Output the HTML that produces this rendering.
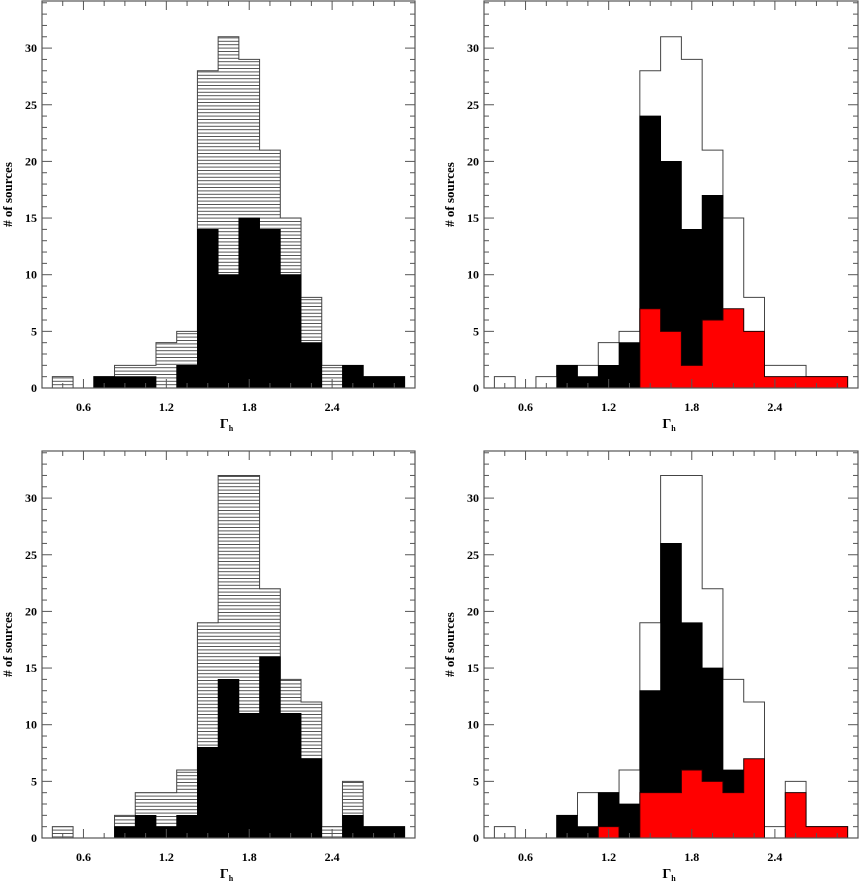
<!DOCTYPE html>
<html><head><meta charset="utf-8"><style>
html,body{margin:0;padding:0;background:#fff}
svg{display:block}
text{font-family:"Liberation Serif",serif;font-weight:bold;fill:#000}
</style></head><body>
<svg id="fig" width="859" height="882" viewBox="0 0 859 882" xmlns="http://www.w3.org/2000/svg">
<defs>
<pattern id="hatch" patternUnits="userSpaceOnUse" width="8" height="3.4">
<rect width="8" height="3.4" fill="#fff"/>
<line x1="0" y1="0.5" x2="8" y2="0.5" stroke="#444" stroke-width="0.9"/>
</pattern>
</defs>
</svg>
<script>
// bin left edges (Gamma_h), width 0.15
const binStarts = [0.375,0.525,0.675,0.825,0.975,1.125,1.275,1.425,1.575,1.725,1.875,2.025,2.175,2.325,2.475,2.625,2.775];
const xTicks = [0.6,1.2,1.8,2.4];
const yTicks = [0,5,10,15,20,25,30];
const topTotal   = [1,0,1,2,2,4,5,28,31,29,21,15,8,2,2,1,1];
const topBlackL  = [0,0,1,1,1,0,2,14,10,15,14,10,4,0,2,1,1];
const topBlackR  = [0,0,0,2,1,2,4,24,20,14,17,0,0,0,0,0,0];
const topRed     = [0,0,0,0,0,0,0,7,5,2,6,7,5,1,1,1,1];
const botTotal   = [1,0,0,2,4,4,6,19,32,32,22,14,12,1,5,1,1];
const botBlackL  = [0,0,0,1,2,1,2,8,14,11,16,11,7,0,2,1,1];
const botBlackR  = [0,0,0,2,1,4,3,13,26,19,15,6,0,0,0,0,0];
const botRed     = [0,0,0,0,0,1,0,4,4,6,5,4,7,0,4,1,1];

const NS="http://www.w3.org/2000/svg";
const svg=document.getElementById('fig');
function mk(tag,attrs,parent){const e=document.createElementNS(NS,tag);for(const k in attrs)e.setAttribute(k,attrs[k]);(parent||svg).appendChild(e);return e;}

function stepPath(vals,xs,ys,yZero){
  let d='';const bw=0.15;
  let i=0;
  while(i<vals.length){
    if(!vals[i]){i++;continue;}
    let s=i;d+=`M${xs(binStarts[s])},${yZero}`;
    while(i<vals.length&&vals[i]){
      d+=`L${xs(binStarts[i])},${ys(vals[i])}L${xs(binStarts[i]+bw)},${ys(vals[i])}`;i++;
    }
    d+=`L${xs(binStarts[i-1]+bw)},${yZero}Z`;
  }
  return d;
}

function panel(name,x0,x1,yTop,yZero,total,black,red,hatched){
  const g=mk('g',{});
  
  
  const xs=v=>x0+(v-0.3)*(x1-x0)/2.7;
  const ys=v=>yZero-v*11.33;
  const tp=mk('path',{d:stepPath(total,xs,ys,yZero),fill:hatched?'url(#hatch)':'#fff',stroke:'#444','stroke-width':1},g);
  
  
  const bp=mk('path',{d:stepPath(black,xs,ys,yZero),fill:'#000',stroke:'#000','stroke-width':0.8},g);
  
  
  if(red){
    const rp=mk('path',{d:stepPath(red,xs,ys,yZero),fill:'#f00',stroke:'#200','stroke-width':1},g);
    
    
  }
  const f=mk('rect',{x:x0,y:yTop,width:x1-x0,height:yZero-yTop,fill:'none',stroke:'#555','stroke-width':1.2},g);
  
  
  for(let v=0.45;v<3.0;v+=0.15){
    const major=xTicks.some(t=>Math.abs(t-v)<1e-6);
    const L=major?9:5;const X=xs(v);
    mk('line',{x1:X,y1:yZero,x2:X,y2:yZero-L,stroke:'#555'},g);
    mk('line',{x1:X,y1:yTop,x2:X,y2:yTop+L,stroke:'#555'},g);
  }
  xTicks.forEach(t=>{
    const tx=mk('text',{x:xs(t),y:yZero+23,'text-anchor':'middle','font-size':12},g);
    tx.textContent=t.toFixed(1);
    
    
  });
  for(let v=1;ys(v)>yTop+1;v++){
    const major=v%5===0;const L=major?10:5;const Y=ys(v);
    mk('line',{x1:x0,y1:Y,x2:x0+L,y2:Y,stroke:'#555'},g);
    mk('line',{x1:x1,y1:Y,x2:x1-L,y2:Y,stroke:'#555'},g);
  }
  yTicks.forEach(t=>{
    const tx=mk('text',{x:x0-5,y:ys(t)+4,'text-anchor':'end','font-size':12},g);
    tx.textContent=String(t);
    
    
  });
  const xl=mk('text',{x:(x0+x1)/2-2,y:yZero+40,'text-anchor':'middle','font-size':14},g);
  xl.innerHTML='Γ<tspan font-size="8" dy="3">h</tspan>';
  
  
  const cy=(yTop+yZero)/2;
  const yl=mk('text',{x:x0-30,y:cy,'text-anchor':'middle','font-size':13,transform:`rotate(-90 ${x0-30} ${cy})`},g);
  yl.textContent='# of sources';
  
  
}
panel('panel-top-left',42,415,1,388,topTotal,topBlackL,null,true);
panel('panel-top-right',484,858,1,388,topTotal,topBlackR,topRed,false);
panel('panel-bottom-left',42,415,451,838,botTotal,botBlackL,null,true);
panel('panel-bottom-right',484,858,451,838,botTotal,botBlackR,botRed,false);
</script>
</body></html>
